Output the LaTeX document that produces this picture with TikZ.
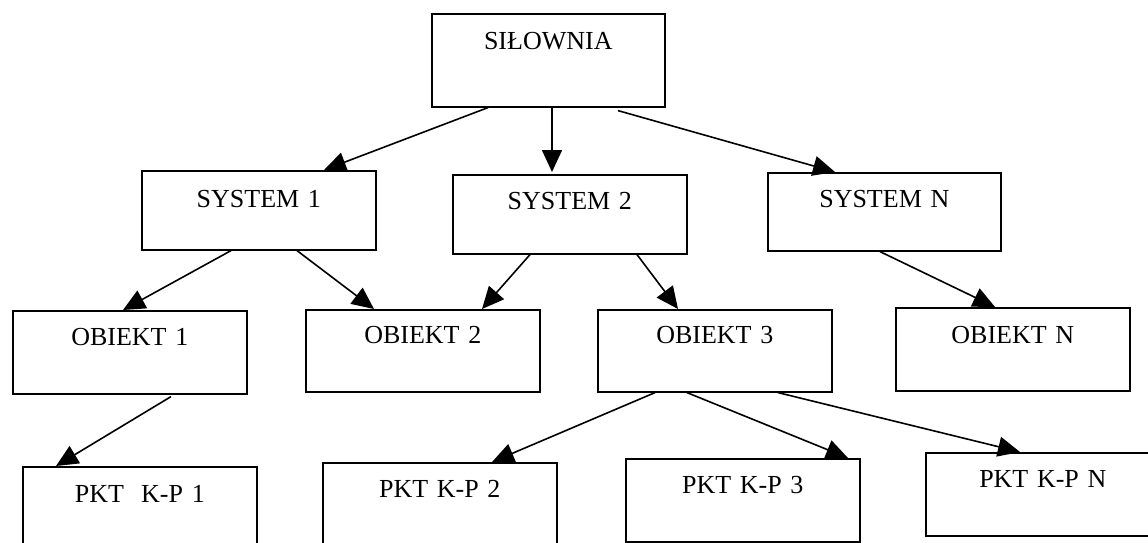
\documentclass[tikz,border=0pt]{standalone}
\usepackage{fontspec}
\setmainfont{Liberation Serif}
\usetikzlibrary{arrows.meta}
\tikzset{
  box/.style n args={3}{draw, line width=1.6pt, inner sep=0pt, anchor=north west,
    text width=#1pt, align=center, text height=#2pt, text depth=#3pt,
    font=\fontsize{26}{30}\selectfont},
  conn/.style={line width=1.6pt, -{Triangle[length=22pt,width=20pt]}}
}
\begin{document}
\begin{tikzpicture}[x=1pt,y=-1pt]
\useasboundingbox (0,0) rectangle (1148,543);
\clip (0,0) rectangle (1148,543);
\node[box={233}{36}{57}] (sil) at (431,13) {SIŁOWNIA};
\node[box={234}{37}{42}] (s1) at (141,170) {SYSTEM 1};
\node[box={234}{35}{44}] (s2) at (452,174) {SYSTEM 2};
\node[box={233}{35}{43}] (sN) at (767,172) {SYSTEM N};
\node[box={234}{35}{48}] (o1) at (12,310) {OBIEKT 1};
\node[box={234}{34}{48}] (o2) at (305,309) {OBIEKT 2};
\node[box={234}{34}{48}] (o3) at (597,309) {OBIEKT 3};
\node[box={234}{36}{47}] (oN) at (895,307) {OBIEKT N};
\node[box={234}{36}{47}] (p1) at (22,466) {PKT\ \ K-P 1};
\node[box={234}{35}{48}] (p2) at (322,462) {PKT K-P 2};
\node[box={234}{35}{48}] (p3) at (625,458) {PKT K-P 3};
\node[box={234}{35}{48}] (pN) at (925,452) {PKT K-P N};
\draw[conn] ([xshift=57pt]sil.south west) -- ([xshift=183pt]s1.north west);
\draw[conn] ([xshift=121pt]sil.south west) -- ([xshift=100pt,yshift=2pt]s2.north west);
\draw[conn] ([xshift=187pt,yshift=-3pt]sil.south west) -- ([xshift=68pt]sN.north west);
\draw[conn] ([xshift=90pt]s1.south west) -- ([xshift=111pt]o1.north west);
\draw[conn] ([xshift=156pt]s1.south west) -- ([xshift=69pt]o2.north west);
\draw[conn] ([xshift=78pt]s2.south west) -- ([xshift=177pt]o2.north west);
\draw[conn] ([xshift=185pt]s2.south west) -- ([xshift=81pt]o3.north west);
\draw[conn] ([xshift=113pt]sN.south west) -- ([xshift=100pt]oN.north west);
\draw[conn] ([xshift=159pt,yshift=-2pt]o1.south west) -- ([xshift=34pt]p1.north west);
\draw[conn] ([xshift=58pt]o3.south west) -- ([xshift=170pt]p2.north west);
\draw[conn] ([xshift=90pt]o3.south west) -- ([xshift=223pt]p3.north west);
\draw[conn] ([xshift=181pt]o3.south west) -- ([xshift=95pt]pN.north west);
\end{tikzpicture}
\end{document}
